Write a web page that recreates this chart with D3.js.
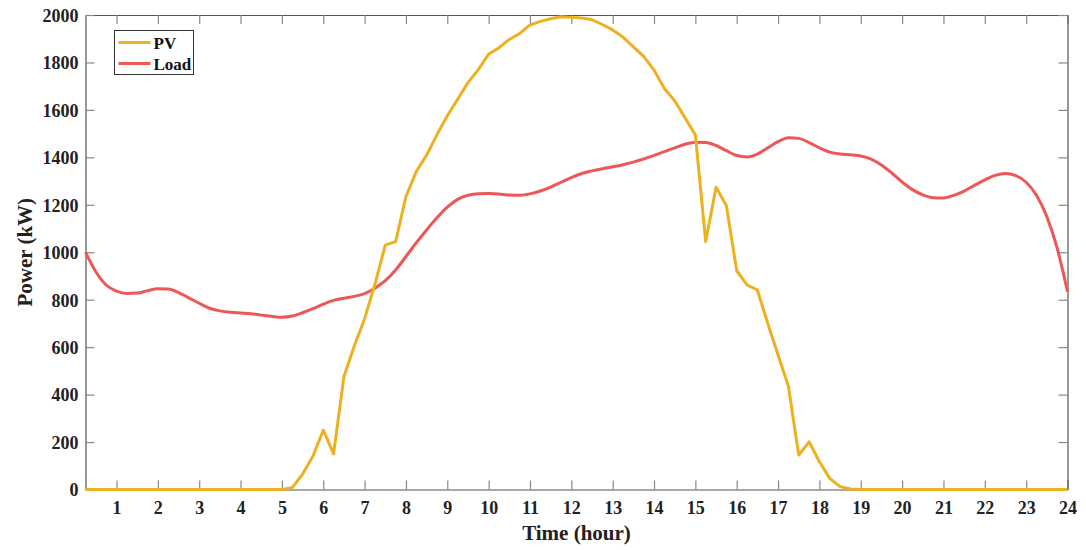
<!DOCTYPE html>
<html>
<head>
<meta charset="utf-8">
<script src="https://cdn.jsdelivr.net/npm/d3@7"></script>
<style>
  body { margin: 0; background: #fff; }
  svg { display: block; font-family: "Liberation Serif", "Times New Roman", serif; }
  .tick text { font-family: "Liberation Serif", "Times New Roman", serif; font-size: 18px; font-weight: bold; fill: #222; }
</style>
</head>
<body>
<svg width="1086" height="550"></svg>
<script>
// time of day, 15 min steps
const hours = [
  0.25, 0.5, 0.75, 1, 1.25, 1.5, 1.75, 2, 2.25, 2.5, 2.75, 3, 3.25, 3.5, 3.75, 4,
  4.25, 4.5, 4.75, 5, 5.25, 5.5, 5.75, 6, 6.25, 6.5, 6.75, 7, 7.25, 7.5, 7.75, 8,
  8.25, 8.5, 8.75, 9, 9.25, 9.5, 9.75, 10, 10.25, 10.5, 10.75, 11, 11.25, 11.5, 11.75, 12,
  12.25, 12.5, 12.75, 13, 13.25, 13.5, 13.75, 14, 14.25, 14.5, 14.75, 15, 15.25, 15.5, 15.75, 16,
  16.25, 16.5, 16.75, 17, 17.25, 17.5, 17.75, 18, 18.25, 18.5, 18.75, 19, 19.25, 19.5, 19.75, 20,
  20.25, 20.5, 20.75, 21, 21.25, 21.5, 21.75, 22, 22.25, 22.5, 22.75, 23, 23.25, 23.5, 23.75, 24
];

const pv = [
  0, 0, 0, 0, 0, 0, 0, 0, 0, 0, 0, 0, 0, 0, 0, 0,
  0, 0, 0, 0, 8, 65, 140, 250, 150, 475, 605, 720, 865, 1030, 1045, 1235,
  1340, 1410, 1495, 1575, 1645, 1715, 1770, 1835, 1862, 1897, 1922, 1958, 1973, 1984, 1993, 1990,
  1987, 1980, 1960, 1937, 1907, 1866, 1826, 1768, 1690, 1638, 1567, 1494, 1045, 1274, 1196, 922,
  862, 841, 700, 567, 435, 145, 201, 117, 47, 12, 2, 0, 0, 0, 0, 0,
  0, 0, 0, 0, 0, 0, 0, 0, 0, 0, 0, 0, 0, 0, 0, 0
];

const load = [
  1000, 918, 862, 836, 826, 828, 838, 846, 845, 830, 808, 785, 764, 753, 747, 744,
  741, 735, 730, 726, 731, 745, 762, 781, 797, 806, 814, 826, 848, 880, 925, 982,
  1040, 1094, 1145, 1190, 1223, 1240, 1247, 1248, 1246, 1241, 1240, 1246, 1258, 1275, 1295, 1315,
  1332, 1343, 1352, 1360, 1369, 1380, 1393, 1408, 1424, 1440, 1455, 1464, 1463, 1450, 1428, 1408,
  1402, 1414, 1440, 1466, 1483, 1480, 1462, 1440, 1422, 1414, 1411, 1406, 1393, 1368, 1334, 1296,
  1264, 1242, 1230, 1229, 1240, 1258, 1282, 1305, 1324, 1332, 1323, 1295, 1240, 1150, 1017, 834
];

const xTicks = [1, 2, 3, 4, 5, 6, 7, 8, 9, 10, 11, 12, 13, 14, 15, 16, 17, 18, 19, 20, 21, 22, 23, 24];
const yTicks = [0, 200, 400, 600, 800, 1000, 1200, 1400, 1600, 1800, 2000];

const seriesNames = ['PV', 'Load'];
const seriesColors = ['#EDB120', '#EF5656'];

const svg = d3.select('svg');
const plot = { left: 85.5, right: 1067.5, top: 15, bottom: 489.5 };
const axisColor = '#555';
const serif = '"Liberation Serif", "Times New Roman", serif';

const x = d3.scaleLinear().domain([0.25, 24]).range([plot.left, plot.right]);
const y = d3.scaleLinear().domain([0, 2000]).range([plot.bottom, plot.top]);

// ---- axes (ticks inward, box all round)
const gx = svg.append('g')
    .attr('transform', `translate(0,${plot.bottom})`)
    .call(d3.axisBottom(x).tickValues(xTicks).tickSize(-9).tickPadding(12).tickSizeOuter(0));

const gxTop = svg.append('g')
    .attr('transform', `translate(0,${plot.top})`)
    .call(d3.axisTop(x).tickValues(xTicks).tickSize(-9).tickFormat('').tickSizeOuter(0));

const gy = svg.append('g')
    .attr('transform', `translate(${plot.left},0)`)
    .call(d3.axisLeft(y).tickValues(yTicks).tickFormat(d3.format('d')).tickSize(-9).tickPadding(7).tickSizeOuter(0));

const gyRight = svg.append('g')
    .attr('transform', `translate(${plot.right},0)`)
    .call(d3.axisRight(y).tickValues(yTicks).tickSize(-9).tickFormat('').tickSizeOuter(0));

[gx, gxTop, gy, gyRight].forEach(g => {
    g.attr('font-family', serif);
    g.select('.domain').attr('stroke', axisColor).attr('stroke-width', 1.2);
    g.selectAll('.tick line').attr('stroke', '#888').attr('stroke-width', 1.2);
});
gy.selectAll('.tick text').attr('dy', '0.35em');

// ---- lines
const pvLine = d3.line()
    .x((d, i) => x(hours[i]))
    .y(d => y(d));

const loadLine = d3.line()
    .x((d, i) => x(hours[i]))
    .y(d => y(d))
    .curve(d3.curveMonotoneX);

svg.append('path')
    .datum(load)
    .attr('d', loadLine)
    .attr('fill', 'none')
    .attr('stroke', seriesColors[1])
    .attr('stroke-width', 3)
    .attr('stroke-linejoin', 'round');

svg.append('path')
    .datum(pv)
    .attr('d', pvLine)
    .attr('fill', 'none')
    .attr('stroke', seriesColors[0])
    .attr('stroke-width', 3)
    .attr('stroke-linejoin', 'round');

// ---- axis labels
svg.append('text')
    .attr('x', (plot.left + plot.right) / 2)
    .attr('y', 540)
    .attr('text-anchor', 'middle')
    .style('font-size', '21px')
    .style('font-weight', 'bold')
    .style('fill', '#222')
    .text('Time (hour)');

svg.append('text')
    .attr('transform', `translate(32,${(plot.top + plot.bottom) / 2}) rotate(-90)`)
    .attr('text-anchor', 'middle')
    .style('font-size', '21px')
    .style('font-weight', 'bold')
    .style('fill', '#222')
    .text('Power (kW)');

// ---- legend
const legend = svg.append('g').attr('transform', 'translate(114.5,30.5)');
legend.append('rect')
    .attr('width', 79)
    .attr('height', 44)
    .attr('fill', '#fff')
    .attr('stroke', '#333')
    .attr('stroke-width', 1);

seriesNames.forEach((name, i) => {
    const ly = 12 + i * 21;
    legend.append('line')
        .attr('x1', 4).attr('x2', 36)
        .attr('y1', ly).attr('y2', ly)
        .attr('stroke', seriesColors[i])
        .attr('stroke-width', 3);
    legend.append('text')
        .attr('x', 39)
        .attr('y', ly + 6)
        .style('font-size', '17px')
        .style('font-weight', 'bold')
        .style('fill', '#111')
        .text(name);
});
</script>
</body>
</html>
